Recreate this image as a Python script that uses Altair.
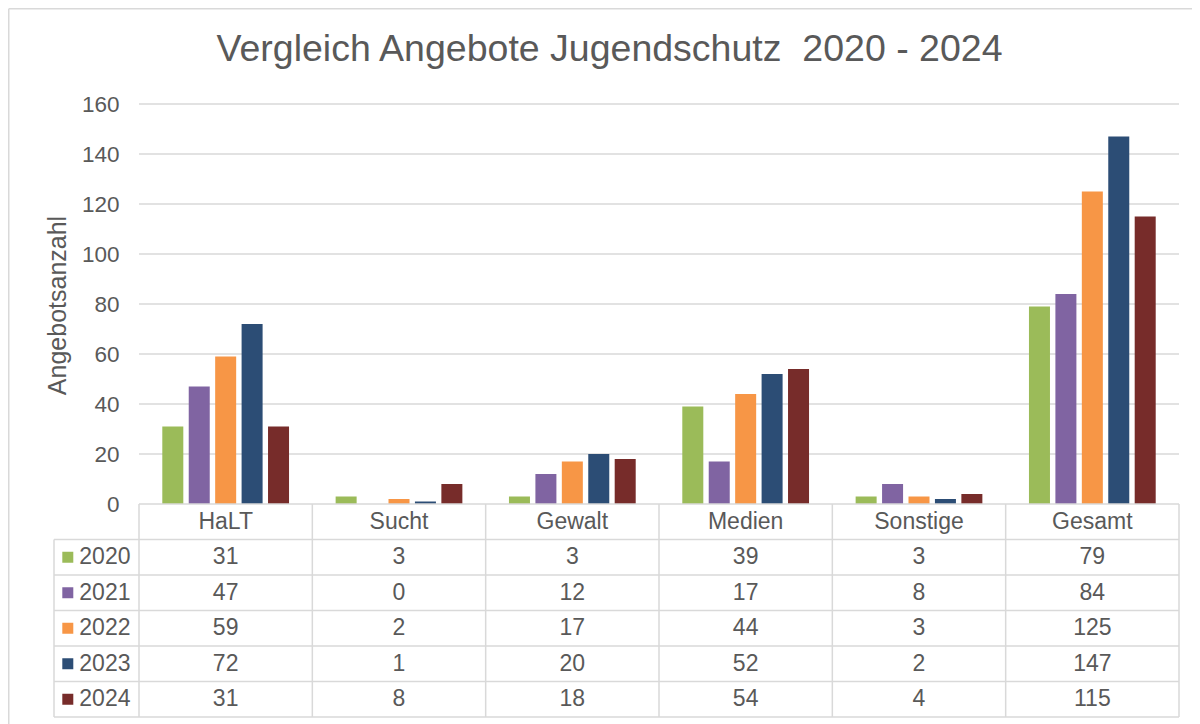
import altair as alt
import pandas as pd

categories = ["HaLT", "Sucht", "Gewalt", "Medien", "Sonstige", "Gesamt"]
years = ["2020", "2021", "2022", "2023", "2024"]
v2020 = [31, 3, 3, 39, 3, 79]
v2021 = [47, 0, 12, 17, 8, 84]
v2022 = [59, 2, 17, 44, 3, 125]
v2023 = [72, 1, 20, 52, 2, 147]
v2024 = [31, 8, 18, 54, 4, 115]
series = [v2020, v2021, v2022, v2023, v2024]
colors = ["#9BBB59", "#8064A2", "#F79646", "#2C4D75", "#772C2A"]
y_ticks = [0, 20, 40, 60, 80, 100, 120, 140, 160]

FONT = "Liberation Sans"
TXT = "#595959"
GRID = "#d9d9d9"

ROW = 14.2            # table row height in value units
NROWS = len(years) + 1
COLPX = 173.33        # px per category column
XMIN = -85 / COLPX    # legend column width relative to a category column
STEP = 0.1525         # bar step within group (category units)
HALF = 0.0606         # half bar width
PXY = 2.5             # px per value unit

W, H = 1125, 613

# bars
bars = []
for j, (yr, vals) in enumerate(zip(years, series)):
    for i, (c, v) in enumerate(zip(categories, vals)):
        cx = i + 0.5 + (j - 2) * STEP
        bars.append({"cat": c, "year": yr, "value": v, "x0": cx - HALF, "x1": cx + HALF})
bars_df = pd.DataFrame(bars)

# grid lines
grid_df = pd.DataFrame({"y": [t for t in y_ticks if t > 0], "x0": 0, "x1": len(categories)})

# table lines
hl = [{"y": 0.0, "x0": 0, "x1": len(categories)}]
for k in range(1, NROWS + 1):
    hl.append({"y": -ROW * k, "x0": XMIN, "x1": len(categories)})
hl_df = pd.DataFrame(hl)
vl = [{"x": XMIN, "y0": -ROW, "y1": -ROW * NROWS}]
for i in range(len(categories) + 1):
    vl.append({"x": float(i), "y0": 0.0, "y1": -ROW * NROWS})
vl_df = pd.DataFrame(vl)

# outer frame (left and top edge of the chart area)
FX = XMIN - 45.25 / COLPX
FY = 160 + 95.25 / PXY
frame_df = pd.DataFrame({"x": [FX, FX], "x2": [FX, XMIN + 1200 / COLPX],
                         "y": [FY, FY], "y2": [-ROW * NROWS - 10 / PXY, FY]})

# table text
head_df = pd.DataFrame({"x": [i + 0.5 for i in range(len(categories))],
                        "y": -ROW / 2, "label": categories})
cells = []
for r, (yr, vals) in enumerate(zip(years, series)):
    for i, v in enumerate(vals):
        cells.append({"x": i + 0.5, "y": -ROW * (r + 1) - ROW / 2, "label": str(v)})
cells_df = pd.DataFrame(cells)
leg_df = pd.DataFrame({"year": years, "y": [-ROW * (r + 1) - ROW / 2 for r in range(len(years))]})

xs = alt.Scale(domain=[XMIN, len(categories)], nice=False, zero=False, padding=0)
ys = alt.Scale(domain=[-ROW * NROWS, 160], nice=False, zero=False, padding=0)
yaxis = alt.Axis(values=y_ticks, title="Angebotsanzahl", grid=False, domain=False, ticks=False,
                 offset=-85, labelPadding=20, labelFontSize=22.5, labelColor=TXT, labelFont=FONT,
                 titleFontSize=25, titleFont=FONT, titleColor=TXT, titleFontWeight="normal",
                 titleAngle=270, titleBaseline="middle", titleX=-81.5, titleY=201)
cscale = alt.Scale(domain=years, range=colors)

frame = alt.Chart(frame_df).mark_rule(color=GRID, strokeWidth=1.5).encode(
    x=alt.X("x:Q", scale=xs, axis=None), x2="x2:Q",
    y=alt.Y("y:Q", scale=ys, axis=yaxis), y2="y2:Q")

grid = alt.Chart(grid_df).mark_rule(color=GRID, strokeWidth=1.3).encode(
    x=alt.X("x0:Q", scale=xs, axis=None), x2="x1:Q",
    y=alt.Y("y:Q", scale=ys, axis=yaxis))

bar = alt.Chart(bars_df).mark_bar().encode(
    x=alt.X("x0:Q", scale=xs, axis=None), x2="x1:Q",
    y=alt.Y("value:Q", scale=ys, axis=yaxis), y2=alt.datum(0),
    color=alt.Color("year:N", scale=cscale, legend=None))

hlines = alt.Chart(hl_df).mark_rule(color=GRID, strokeWidth=1.5).encode(
    x=alt.X("x0:Q", scale=xs, axis=None), x2="x1:Q",
    y=alt.Y("y:Q", scale=ys, axis=yaxis))

vlines = alt.Chart(vl_df).mark_rule(color=GRID, strokeWidth=1.5).encode(
    x=alt.X("x:Q", scale=xs, axis=None),
    y=alt.Y("y0:Q", scale=ys, axis=yaxis), y2="y1:Q")

head = alt.Chart(head_df).mark_text(font=FONT, fontSize=23, color=TXT).encode(
    x=alt.X("x:Q", scale=xs, axis=None), y=alt.Y("y:Q", scale=ys, axis=yaxis), text="label:N")

cell = alt.Chart(cells_df).mark_text(font=FONT, fontSize=23, color=TXT).encode(
    x=alt.X("x:Q", scale=xs, axis=None), y=alt.Y("y:Q", scale=ys, axis=yaxis), text="label:N")

leg_sq = alt.Chart(leg_df).mark_square(size=121, opacity=1, filled=True).encode(
    x=alt.value(13.8), y=alt.Y("y:Q", scale=ys, axis=yaxis),
    color=alt.Color("year:N", scale=cscale, legend=None))

leg_txt = alt.Chart(leg_df).mark_text(font=FONT, fontSize=23, color=TXT, align="left").encode(
    x=alt.value(25.3), y=alt.Y("y:Q", scale=ys, axis=yaxis), text="year:N")

chart = alt.layer(frame, grid, bar, hlines, vlines, head, cell, leg_sq, leg_txt).properties(
    width=W, height=H,
    title=alt.TitleParams("Vergleich Angebote Jugendschutz\u00a0 2020 - 2024", font=FONT, fontSize=37.5,
                          fontWeight="normal", color=TXT, anchor="middle", frame="group",
                          baseline="alphabetic", offset=-90, dx=-7),
    autosize=alt.AutoSizeParams(type="none"),
    padding={"left": 46, "top": 96, "right": 13, "bottom": 8},
    background="white",
).configure_view(stroke=None)

chart.save("out.html", embed_options={"renderer": "svg", "actions": False})
